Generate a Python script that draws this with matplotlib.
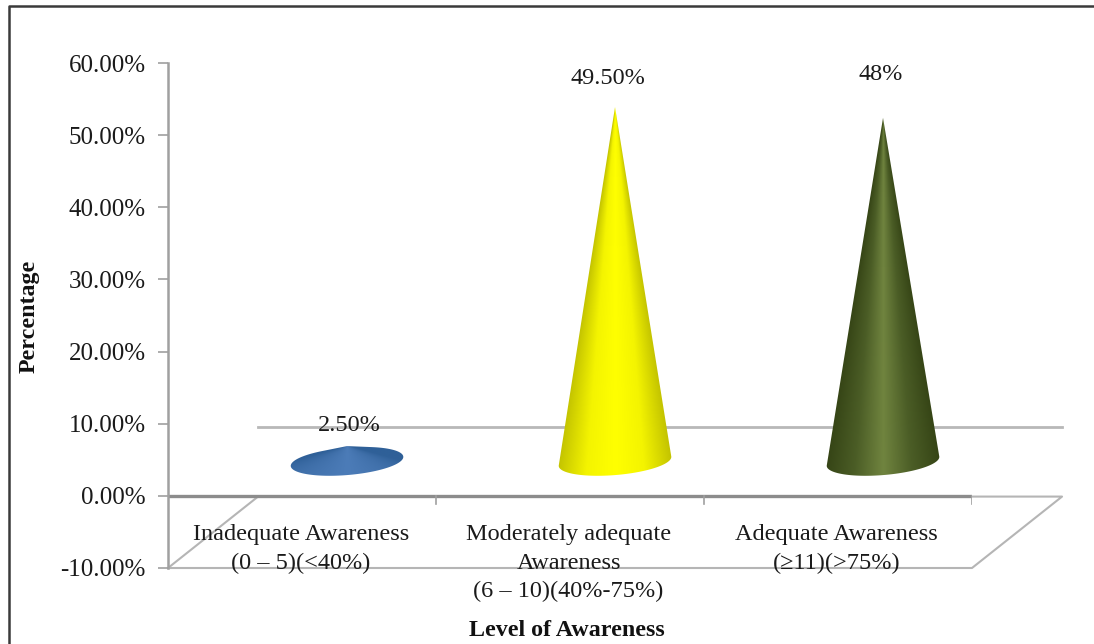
import numpy as np
import matplotlib
matplotlib.use("Agg")
import matplotlib.pyplot as plt
from matplotlib.colors import LinearSegmentedColormap
from matplotlib.patches import Polygon
from matplotlib.lines import Line2D

plt.rcParams['font.family'] = ['Liberation Serif', 'DejaVu Serif']

categories = ["Inadequate Awareness\n(0 – 5)(<40%)",
              "Moderately adequate\nAwareness\n(6 – 10)(40%-75%)",
              "Adequate Awareness\n(≥11)(>75%)"]
values = [2.5, 49.5, 48.0]
value_labels = ["2.50%", "49.50%", "48%"]
y_ticks = [-10, 0, 10, 20, 30, 40, 50, 60]
y_tick_labels = ["-10.00%", "0.00%", "10.00%", "20.00%", "30.00%", "40.00%", "50.00%", "60.00%"]
x_title = "Level of Awareness"
y_title = "Percentage"
edge_colors = ["#2f6098", "#c4c400", "#364516"]
shoulder_colors = ["#3f6fa9", "#f4f400", "#4b5d26"]
mid_colors = ["#4c7cb8", "#ffff00", "#70843f"]

W, H = 1094, 644
fig = plt.figure(figsize=(W / 100, H / 100), dpi=100)
L, R, T, B = 168, 972, 63, 568
ax = fig.add_axes([L / W, 1 - B / H, (R - L) / W, (B - T) / H])
ax.patch.set_alpha(0)
for s in ["top", "right", "bottom"]:
    ax.spines[s].set_visible(False)
ax.spines["left"].set_color("#a0a0a0")
ax.spines["left"].set_linewidth(1.8)
ax.set_yticks(y_ticks)
ax.set_yticklabels(y_tick_labels, fontsize=18, color="#1a1a1a")
ax.tick_params(axis="y", length=7, width=1.2, color="#a0a0a0", pad=9)
ax.set_xticks([])

dx = 0.336          # depth shift of the back wall, in category widths
dy = 10             # depth shift of the back wall, in percent
gray = "#b5b5b5"
# floor
ax.plot([-0.5, -0.5 + dx, 2.5 + dx, 2.5, -0.5],
        [-10, -10 + dy - 0.1, -10 + dy - 0.1, -10, -10], color=gray, lw=1.5, clip_on=False, zorder=1)
# the single back gridline
ax.plot([-0.5 + dx, 2.5 + dx], [9.6, 9.6], color="#b8b8b8", lw=2, clip_on=False, zorder=1)
# front zero line with category ticks
ax.plot([-0.5, 2.5], [0, 0], color="#8c8c8c", lw=2.4, zorder=2)
for xt in [-0.5, 0.5, 1.5, 2.5]:
    ax.plot([xt, xt], [0, -1.1], color="#a0a0a0", lw=1.2, zorder=2)

# cones
half_w = 0.21
base_y = 4.78
minor = 1.9
tilt = 0.62
label_gap = [2.9, 3.9, 6.0]
label_shift = [0.007, -0.026, -0.007]
for i, v in enumerate(values):
    cx = i + dx / 2
    apex = v + 4.4
    t = np.linspace(np.pi / 2, 2.5 * np.pi, 241)
    ex = cx + half_w * np.cos(t)
    ey = base_y + minor * np.sin(t) + tilt * np.cos(t)
    # outline: apex plus the part of the base ellipse between the two tangents
    ang = np.arctan2(ex - cx, apex - ey)
    il, ir = np.argmin(ang), np.argmax(ang)
    pts = np.column_stack([np.r_[cx, ex[il:ir + 1]], np.r_[apex, ey[il:ir + 1]]])
    poly = Polygon(pts, closed=True, transform=ax.transData, fc="none", ec="none")
    ax.add_patch(poly)
    cmap = LinearSegmentedColormap.from_list(
        "c", [(0, edge_colors[i]), (0.25, shoulder_colors[i]), (0.5, mid_colors[i]),
              (0.75, shoulder_colors[i]), (1, edge_colors[i])])
    # shading follows the cone's taper: the same fraction of the width at each height
    ylo, yhi = ey.min() - 0.5, apex + 0.5
    gx = np.linspace(cx - half_w * 1.02, cx + half_w * 1.02, 300)
    gy = np.linspace(yhi, ylo, 500)
    X, Y = np.meshgrid(gx, gy)
    frac = np.clip((apex - Y) / (apex - base_y), 0.02, None)
    U = np.clip((X - cx) / (half_w * frac) * 0.5 + 0.5, 0, 1)
    im = ax.imshow(U, cmap=cmap, vmin=0, vmax=1,
                   extent=[gx[0], gx[-1], ylo, yhi],
                   aspect="auto", zorder=3, interpolation="bilinear")
    im.set_clip_path(poly)
    ax.text(cx + label_shift[i], apex + label_gap[i], value_labels[i], ha="center", va="center",
            fontsize=17.5, color="#1a1a1a", zorder=4)
ax.set_xlim(-0.5, 2.5)
ax.set_ylim(-10, 60)

# category labels
for i, c in enumerate(categories):
    ax.text(i - 0.005, -3.95, c, ha="center", va="top", fontsize=17.5, color="#1a1a1a",
            linespacing=1.45, zorder=4, clip_on=False)

fig.text(567 / W, 1 - 630 / H, x_title, ha="center", va="center", fontsize=17.3, fontweight="bold", color="#111111")
fig.text(29 / W, 1 - 316 / H, y_title, ha="center", va="center", rotation=90, fontsize=17.3,
         fontweight="bold", color="#111111")

# outer frame
fig.add_artist(Line2D([9 / W, 9 / W, 1], [0, 1 - 5.5 / H, 1 - 5.5 / H], color="#3a3a3a", lw=1.8))

fig.savefig("out.png", dpi=100)
